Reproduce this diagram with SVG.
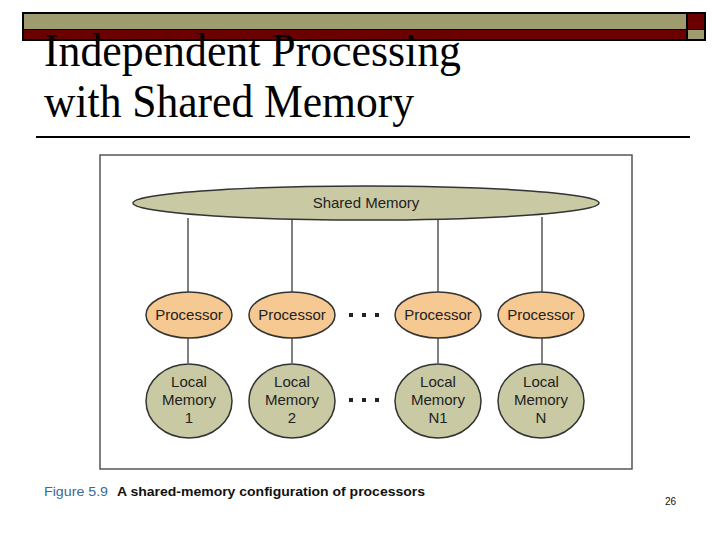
<svg xmlns="http://www.w3.org/2000/svg" width="720" height="540" viewBox="0 0 720 540">
<style>
.title{font-family:"Liberation Serif","Times New Roman",serif;font-size:47px;fill:#000}
.lbl{font-family:"Liberation Sans",Arial,sans-serif;font-size:15px;fill:#222;text-anchor:middle}
.olive{fill:#c9c9a3;stroke:#333;stroke-width:1.5}
.proc{fill:#f6c992;stroke:#333;stroke-width:1.5}
.conn line{stroke:#555;stroke-width:1.5}
.dot{fill:#222}
</style>
<rect width="720" height="540" fill="#fff"/>
<g id="header">
<rect x="22" y="12" width="684" height="29" fill="#000"/>
<rect x="24" y="14" width="662" height="15" fill="#9e9b6e"/>
<rect x="688" y="14" width="16" height="15" fill="#6b0000"/>
<rect x="24" y="30" width="662" height="9" fill="#6b0000"/>
<rect x="688" y="30" width="16" height="9" fill="#9e9b6e"/>
</g>
<text class="title" x="44" y="66" textLength="417" lengthAdjust="spacingAndGlyphs">Independent Processing</text>
<text class="title" x="44" y="117" textLength="370" lengthAdjust="spacingAndGlyphs">with Shared Memory</text>
<line x1="36" y1="137" x2="690" y2="137" stroke="#000" stroke-width="2"/>
<rect x="100" y="155" width="532" height="314" fill="#fff" stroke="#555" stroke-width="1.5"/>
<g class="conn" id="connectors">
<line x1="188" y1="218" x2="188" y2="292"/>
<line x1="292" y1="220" x2="292" y2="292"/>
<line x1="438" y1="220" x2="438" y2="292"/>
<line x1="542" y1="217" x2="542" y2="292"/>
<line x1="188" y1="338" x2="188" y2="363"/>
<line x1="292" y1="338" x2="292" y2="363"/>
<line x1="438" y1="338" x2="438" y2="363"/>
<line x1="542" y1="338" x2="542" y2="363"/>
</g>
<g id="shared">
<ellipse class="olive" cx="366" cy="203" rx="233" ry="17"/>
<text class="lbl" x="366" y="208">Shared Memory</text>
</g>
<g id="proc1"><ellipse class="proc" cx="189" cy="315" rx="43" ry="23"/><text class="lbl" x="189" y="320">Processor</text></g>
<g id="proc2"><ellipse class="proc" cx="292" cy="315" rx="43" ry="23"/><text class="lbl" x="292" y="320">Processor</text></g>
<g id="proc3"><ellipse class="proc" cx="438" cy="315" rx="43" ry="23"/><text class="lbl" x="438" y="320">Processor</text></g>
<g id="proc4"><ellipse class="proc" cx="541" cy="315" rx="43" ry="23"/><text class="lbl" x="541" y="320">Processor</text></g>
<g id="mem1"><ellipse class="olive" cx="189" cy="401" rx="43" ry="37"/><text class="lbl" x="189" y="387">Local</text><text class="lbl" x="189" y="405">Memory</text><text class="lbl" x="189" y="423">1</text></g>
<g id="mem2"><ellipse class="olive" cx="292" cy="401" rx="43" ry="37"/><text class="lbl" x="292" y="387">Local</text><text class="lbl" x="292" y="405">Memory</text><text class="lbl" x="292" y="423">2</text></g>
<g id="mem3"><ellipse class="olive" cx="438" cy="401" rx="43" ry="37"/><text class="lbl" x="438" y="387">Local</text><text class="lbl" x="438" y="405">Memory</text><text class="lbl" x="438" y="423">N1</text></g>
<g id="mem4"><ellipse class="olive" cx="541" cy="401" rx="43" ry="37"/><text class="lbl" x="541" y="387">Local</text><text class="lbl" x="541" y="405">Memory</text><text class="lbl" x="541" y="423">N</text></g>
<g id="dots">
<rect class="dot" x="349" y="313" width="4" height="4"/><rect class="dot" x="362" y="313" width="4" height="4"/><rect class="dot" x="375" y="313" width="4" height="4"/>
<rect class="dot" x="349" y="398" width="4" height="4"/><rect class="dot" x="362" y="398" width="4" height="4"/><rect class="dot" x="375" y="398" width="4" height="4"/>
</g>
<text x="44" y="496" font-family="'Liberation Sans',Arial,sans-serif" font-size="12.5" fill="#3a6a9a" textLength="64" lengthAdjust="spacingAndGlyphs">Figure 5.9</text>
<text x="117" y="496" font-family="'Liberation Sans',Arial,sans-serif" font-size="12.5" font-weight="bold" fill="#111" textLength="308" lengthAdjust="spacingAndGlyphs">A shared-memory configuration of processors</text>
<text x="665" y="505" font-family="'Liberation Sans',Arial,sans-serif" font-size="10" fill="#111">26</text>
</svg>
